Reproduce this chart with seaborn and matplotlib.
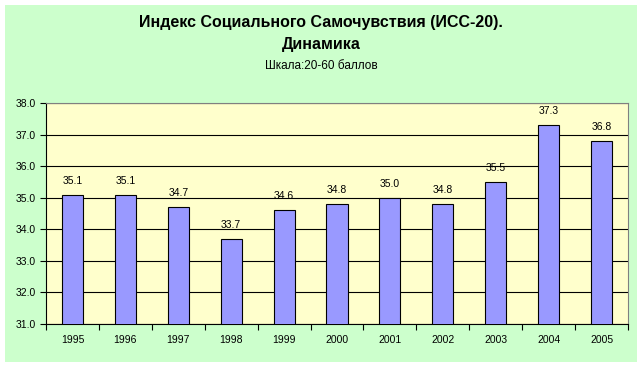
import numpy as np
import pandas as pd
import matplotlib
matplotlib.use('Agg')
import matplotlib.pyplot as plt
import seaborn as sns
from matplotlib.patches import Rectangle
from matplotlib.ticker import FixedLocator, FormatStrFormatter

# dados do grafico
anos = ['1995', '1996', '1997', '1998', '1999', '2000', '2001', '2002', '2003', '2004', '2005']
valores = [35.1, 35.1, 34.7, 33.7, 34.6, 34.8, 35.0, 34.8, 35.5, 37.3, 36.8]
y_ticks = [31.0, 32.0, 33.0, 34.0, 35.0, 36.0, 37.0, 38.0]

df = pd.DataFrame({'ano': anos, 'valor': valores})

sns.set_style('white')
plt.rcParams['font.family'] = ['Liberation Sans', 'DejaVu Sans']
plt.rcParams['text.color'] = 'black'
plt.rcParams['xtick.color'] = 'black'
plt.rcParams['ytick.color'] = 'black'

fig = plt.figure(figsize=(6.42, 3.66), dpi=100)
fig.patch.set_facecolor('white')
fig.patches.append(Rectangle((5 / 642, 4 / 366), 632 / 642, 357 / 366, transform=fig.transFigure,
                             facecolor='#CCFFCC', edgecolor='none', zorder=-10))

ax = fig.add_axes([46 / 642, 42 / 366, 582 / 642, 221 / 366])
ax.set_facecolor('#FFFFCC')

sns.barplot(data=df, x='ano', y='valor', color='#9999FF', width=0.4,
            edgecolor='black', linewidth=0.8, saturation=1, ax=ax, zorder=3)

ax.set_ylim(31.0, 38.0)
ax.set_xlim(-0.5, len(anos) - 0.5)
ax.set_yticks(y_ticks)
ax.yaxis.set_major_formatter(FormatStrFormatter('%.1f'))
ax.grid(axis='y', color='black', linewidth=0.8, zorder=0)
ax.set_axisbelow(True)

# ticks entre as categorias
ax.xaxis.set_minor_locator(FixedLocator(np.arange(-0.5, len(anos), 1.0)))
ax.tick_params(axis='x', which='major', length=0, labelsize=7.5, pad=8)
ax.tick_params(axis='x', which='minor', length=4, width=0.8, direction='out', bottom=True)
ax.tick_params(axis='y', length=4, width=0.8, direction='out', labelsize=7.5, left=True)
ax.set_xlabel('')
ax.set_ylabel('')

for sp in ['top', 'right']:
    ax.spines[sp].set_color('#808080')
    ax.spines[sp].set_linewidth(0.8)
for sp in ['left', 'bottom']:
    ax.spines[sp].set_color('black')
    ax.spines[sp].set_linewidth(0.8)

for i, v in enumerate(valores):
    ax.annotate(f'{v:.1f}', (i, v), xytext=(0, 10), textcoords='offset points',
                ha='center', va='center', fontsize=7.5)

fig.text(0.5, 1 - 22 / 366, 'Индекс Социального Самочувствия (ИСС-20).', ha='center', va='center',
         fontsize=11.5, fontweight='bold')
fig.text(0.5, 1 - 45 / 366, 'Динамика', ha='center', va='center', fontsize=11.5, fontweight='bold')
fig.text(0.5, 1 - 66 / 366, 'Шкала:20-60 баллов', ha='center', va='center', fontsize=8.5)

fig.savefig('out.png', dpi=100)
